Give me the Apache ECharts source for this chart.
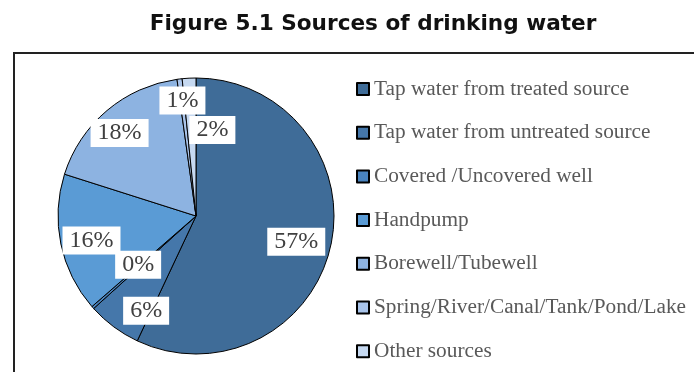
<!DOCTYPE html>
<html>
<head>
<meta charset="utf-8">
<script src="https://cdn.jsdelivr.net/npm/echarts@6/dist/echarts.min.js"></script>
<style>html,body{margin:0;padding:0;background:#fff;}#c{width:694px;height:372px;}</style>
</head>
<body>
<div id="c"></div>
<script>
const categories = ["Tap water from treated source", "Tap water from untreated source", "Covered /Uncovered well", "Handpump", "Borewell/Tubewell", "Spring/River/Canal/Tank/Pond/Lake", "Other sources"];
const shares = [57.0, 6.3, 0.3, 16.3, 17.9, 0.6, 1.6];
const colors = ["#3F6C98", "#4577AA", "#4A84BF", "#5A9BD5", "#8DB3E1", "#A9C4EA", "#C6D9F1"];
const labelNudges = [[30, 10], [-7, 37], [-4, 1], [-34, 10], [-30, -28], [-5, -44], [20, -14]];

const chart = echarts.init(document.getElementById('c'));
chart.setOption({
  animation: false,
  backgroundColor: '#fff',
  title: {
    text: 'Figure 5.1 Sources of drinking water',
    left: 368, top: 8, textAlign: 'center',
    textStyle: { fontFamily: 'DejaVu Sans', fontWeight: 'bold', fontSize: 21.6, color: '#111' }
  },
  graphic: [{
    type: 'rect', shape: { x: 14, y: 53, width: 720, height: 360 },
    style: { fill: 'none', stroke: '#222', lineWidth: 2 }, z: -1
  }],
  legend: {
    orient: 'vertical', left: 351, top: 73,
    itemWidth: 12, itemHeight: 12, itemGap: 21.7,
    icon: 'rect',
    textStyle: { fontFamily: 'Liberation Serif', fontSize: 21.3, color: '#595959', lineHeight: 22 },
    data: categories
  },
  series: [{
    type: 'pie',
    center: [196, 216], radius: 138,
    startAngle: 90, clockwise: true,
    avoidLabelOverlap: false,
    itemStyle: { borderColor: '#000', borderWidth: 1 },
    label: {
      show: true, position: 'inside',
      formatter: p => Math.round(p.percent) + '%',
      fontFamily: 'Liberation Serif', fontSize: 24, color: '#404040',
      backgroundColor: '#fff', padding: [2, 7]
    },
    labelLine: { show: false },
    labelLayout: p => ({ dx: labelNudges[p.dataIndex][0], dy: labelNudges[p.dataIndex][1] }),
    emphasis: { disabled: true },
    data: categories.map((n, i) => ({ name: n, value: shares[i], itemStyle: { color: colors[i] } }))
  }]
});
</script>
</body>
</html>
